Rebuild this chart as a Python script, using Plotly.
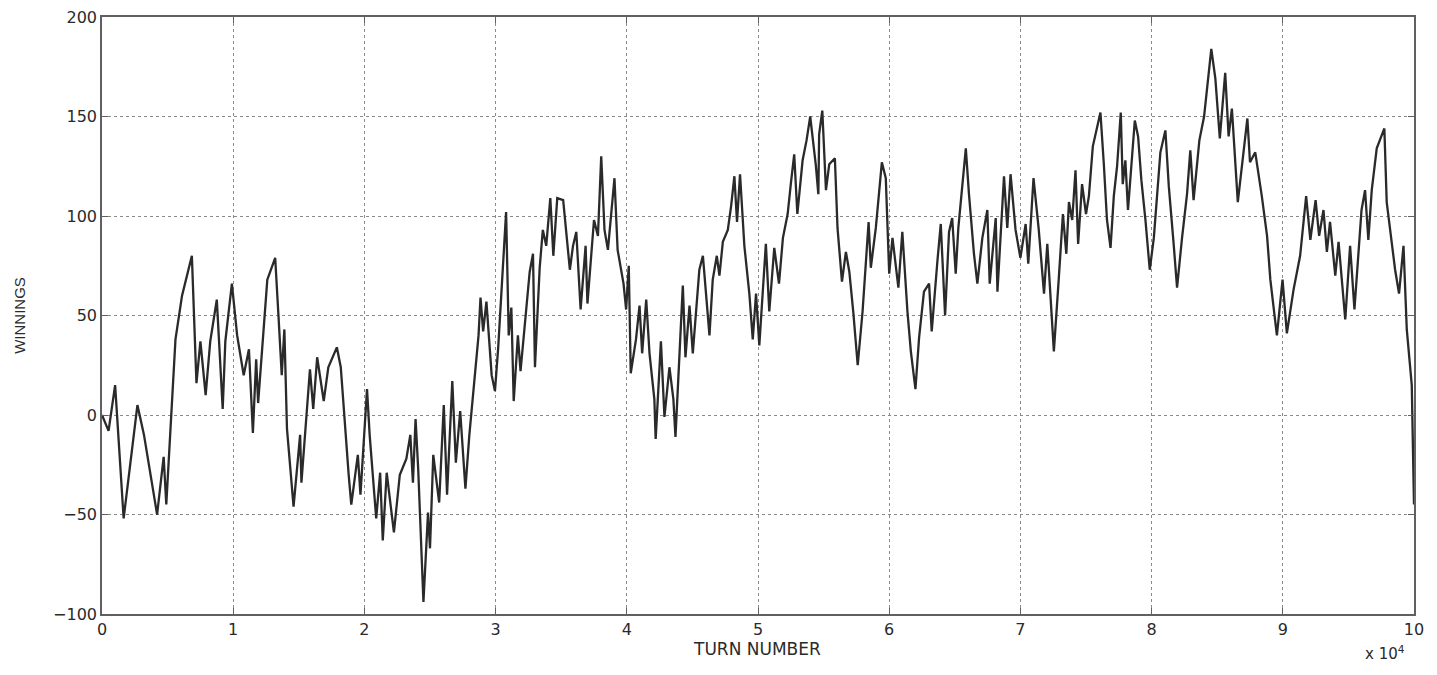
import plotly.graph_objects as go

# Turn number in units of 10^4, and winnings
turn_x1e4 = [
    0.00, 0.05, 0.10, 0.165, 0.27, 0.32, 0.42, 0.47, 0.49, 0.56, 0.61, 0.685, 0.72, 0.75, 0.79,
    0.825, 0.875, 0.92, 0.94, 0.99, 1.03, 1.08, 1.12, 1.15, 1.175, 1.19, 1.26, 1.32, 1.345, 1.37,
    1.39, 1.41, 1.46, 1.51, 1.52, 1.585, 1.61, 1.64, 1.69, 1.725, 1.79, 1.82, 1.88, 1.90, 1.95,
    1.97, 2.02, 2.04, 2.09, 2.12, 2.14, 2.17, 2.225, 2.27, 2.32, 2.35, 2.37, 2.39, 2.41, 2.45,
    2.485, 2.50, 2.525, 2.57, 2.605, 2.63, 2.67, 2.697, 2.73, 2.77, 2.80, 2.87, 2.885, 2.905, 2.93,
    2.97, 2.995, 3.02, 3.08, 3.10, 3.12, 3.138, 3.17, 3.19, 3.26, 3.285, 3.30, 3.336, 3.36, 3.386,
    3.417, 3.44, 3.47, 3.515, 3.566, 3.59, 3.615, 3.648, 3.686, 3.70, 3.75, 3.78, 3.805, 3.83, 3.856,
    3.906, 3.93, 3.975, 3.995, 4.015, 4.03, 4.07, 4.097, 4.117, 4.148, 4.173, 4.21, 4.22, 4.26, 4.287,
    4.325, 4.355, 4.371, 4.427, 4.447, 4.478, 4.503, 4.553, 4.58, 4.604, 4.63, 4.655, 4.686, 4.706, 4.732,
    4.77, 4.795, 4.82, 4.84, 4.863, 4.896, 4.934, 4.96, 4.985, 5.01, 5.06, 5.086, 5.124, 5.16, 5.19,
    5.226, 5.25, 5.276, 5.30, 5.34, 5.37, 5.398, 5.44, 5.46, 5.466, 5.49, 5.518, 5.543, 5.586, 5.606,
    5.64, 5.67, 5.696, 5.726, 5.76, 5.797, 5.843, 5.86, 5.898, 5.944, 5.974, 6.00, 6.025, 6.07, 6.10,
    6.139, 6.165, 6.20, 6.228, 6.265, 6.304, 6.324, 6.367, 6.393, 6.426, 6.456, 6.48, 6.507, 6.527, 6.584,
    6.608, 6.646, 6.672, 6.71, 6.748, 6.766, 6.812, 6.825, 6.875, 6.90, 6.925, 6.963, 7.00, 7.04, 7.06,
    7.10, 7.14, 7.18, 7.205, 7.222, 7.255, 7.293, 7.324, 7.35, 7.37, 7.395, 7.42, 7.44, 7.47, 7.50,
    7.522, 7.552, 7.61, 7.636, 7.66, 7.687, 7.712, 7.737, 7.765, 7.78, 7.80, 7.82, 7.85, 7.872, 7.897,
    7.922, 7.953, 7.986, 8.017, 8.042, 8.067, 8.105, 8.131, 8.168, 8.194, 8.232, 8.27, 8.295, 8.32, 8.364,
    8.40, 8.455, 8.486, 8.52, 8.561, 8.587, 8.612, 8.657, 8.69, 8.73, 8.75, 8.79, 8.84, 8.88, 8.905,
    8.955, 8.998, 9.031, 9.082, 9.132, 9.178, 9.21, 9.25, 9.277, 9.31, 9.336, 9.36, 9.40, 9.425, 9.476,
    9.513, 9.546, 9.60, 9.627, 9.652, 9.678, 9.716, 9.774, 9.792, 9.83, 9.856, 9.886, 9.92, 9.945, 9.983,
    10.00,
]

winnings = [
    0, -8, 15, -52, 5, -10, -50, -21, -45, 38, 60, 80, 16, 37, 10,
    37, 58, 3, 37, 66, 40, 20, 33, -9, 28, 6, 68, 79, 50, 20,
    43, -7, -46, -10, -34, 23, 3, 29, 7, 24, 34, 24, -30, -45, -20,
    -40, 13, -10, -52, -29, -63, -29, -59, -30, -22, -10, -34, -2, -27, -94,
    -49, -67, -20, -44, 5, -40, 17, -24, 2, -37, -10, 40, 59, 42, 57,
    20, 12, 34, 102, 40, 54, 7, 40, 22, 72, 81, 24, 74, 93, 85,
    109, 80, 109, 108, 73, 85, 92, 53, 85, 56, 98, 90, 130, 93, 83,
    119, 83, 66, 53, 75, 21, 38, 55, 31, 58, 31, 8, -12, 37, -1,
    24, 8, -11, 65, 29, 55, 31, 73, 80, 60, 40, 68, 80, 70, 87,
    93, 105, 120, 97, 121, 85, 61, 38, 61, 35, 86, 52, 84, 66, 89,
    101, 116, 131, 101, 128, 138, 150, 126, 111, 141, 153, 113, 126, 129, 94,
    67, 82, 72, 52, 25, 52, 97, 74, 94, 127, 119, 71, 89, 64, 92,
    52, 32, 13, 39, 62, 66, 42, 77, 96, 50, 92, 99, 71, 94, 134,
    111, 81, 66, 89, 103, 66, 99, 62, 120, 94, 121, 93, 79, 96, 76,
    119, 93, 61, 86, 69, 32, 69, 101, 81, 107, 98, 123, 86, 116, 101,
    110, 135, 152, 126, 98, 84, 110, 125, 152, 116, 128, 103, 130, 148, 140,
    118, 98, 73, 89, 110, 132, 143, 115, 86, 64, 89, 111, 133, 108, 138,
    150, 184, 169, 139, 172, 140, 154, 107, 125, 149, 127, 132, 110, 90, 68,
    40, 68, 41, 63, 80, 110, 88, 108, 90, 103, 82, 97, 70, 87, 48,
    85, 53, 103, 113, 88, 113, 134, 144, 107, 87, 73, 61, 85, 43, 15,
    -45,
]

x_ticks = [0, 1, 2, 3, 4, 5, 6, 7, 8, 9, 10]
y_ticks = [-100, -50, 0, 50, 100, 150, 200]

font_family = "DejaVu Sans, Liberation Sans, Arial, sans-serif"

fig = go.Figure()
fig.add_trace(go.Scatter(
    x=turn_x1e4, y=winnings, mode="lines",
    line=dict(color="#2a2a2a", width=2.3),
    hoverinfo="skip", showlegend=False,
))

axis_common = dict(
    showline=True, linecolor="#606060", linewidth=1.6, mirror="allticks",
    ticks="inside", ticklen=6, tickcolor="#606060",
    showgrid=True, gridcolor="#8a8a8a", gridwidth=1, griddash="dot",
    zeroline=False, automargin=False, ticklabeloverflow="allow",
    tickfont=dict(family=font_family, size=16, color="#2a2a2a"),
)

# page body has an 8px margin; size the figure so the whole page fits 1437x675
fig.update_layout(
    width=1421, height=659,
    margin=dict(l=94, r=15, t=9, b=53),
    paper_bgcolor="white", plot_bgcolor="white",
    xaxis=dict(range=[0, 10], tickvals=x_ticks, ticktext=[str(t) for t in x_ticks], **axis_common),
    yaxis=dict(range=[-100, 200], tickvals=y_ticks, **axis_common),
    annotations=[
        dict(text="TURN NUMBER", x=0.499, y=-0.0586, xref="paper", yref="paper",
             xanchor="center", yanchor="middle", showarrow=False,
             font=dict(family=font_family, size=17, color="#2a2a2a")),
        dict(text="WINNINGS", x=-0.063, y=0.5, xref="paper", yref="paper",
             xanchor="center", yanchor="middle", showarrow=False, textangle=-90,
             font=dict(family="Liberation Sans Narrow, Liberation Sans, Arial, sans-serif", size=15, color="#2a2a2a")),
        dict(text="x 10<sup>4</sup>", x=0.978, y=-0.066, xref="paper", yref="paper",
             xanchor="center", yanchor="middle", showarrow=False,
             font=dict(family=font_family, size=15, color="#2a2a2a")),
    ],
)

fig.write_html("out.html")
